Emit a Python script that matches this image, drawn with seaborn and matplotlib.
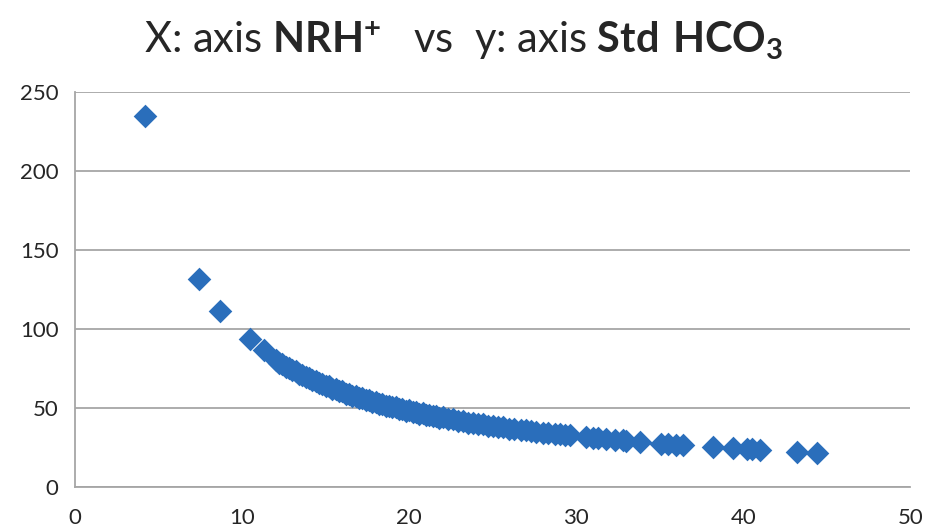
import matplotlib
matplotlib.use("Agg")
import matplotlib.pyplot as plt
import pandas as pd
import seaborn as sns

# values (NRH+ on x, Std HCO3 on y)
nrh = [4.2, 7.4, 8.7, 10.5, 11.3,
       12.0, 12.2, 12.4, 12.6, 12.8, 13.0, 13.2, 13.4, 13.6, 13.8,
       14.0, 14.2, 14.4, 14.6, 14.8, 15.0, 15.2, 15.4, 15.6, 15.8,
       16.0, 16.2, 16.4, 16.6, 16.8, 17.0, 17.2, 17.4, 17.6, 17.8,
       18.0, 18.2, 18.4, 18.6, 18.8, 19.0, 19.2, 19.4, 19.6, 19.8,
       20.0, 20.2, 20.4, 20.6, 20.8, 21.0, 21.2, 21.4, 21.6, 21.8,
       22.0, 22.3, 22.6, 22.9, 23.2, 23.5, 23.8, 24.1, 24.4, 24.7,
       25.0, 25.3, 25.6, 26.0, 26.3, 26.7, 27.0, 27.3, 27.6, 28.0,
       28.3, 28.7, 29.0, 29.3, 29.6, 30.6, 31.0, 31.3, 31.8, 32.3,
       32.8, 33.0, 33.8, 35.1, 35.5, 36.0, 36.4, 38.2, 39.4, 40.2,
       40.5, 41.0, 43.2, 44.4]
std_hco3 = [234.5, 131.8, 111.5, 93.5, 86.8,
            80.5, 78.6, 77.9, 76.1, 75.4, 73.8, 73.2, 71.6, 71.0, 69.5,
            69.0, 67.5, 67.1, 65.7, 65.3, 64.0, 63.6, 62.2, 61.9, 60.6,
            60.4, 59.1, 58.9, 57.7, 57.5, 56.3, 56.2, 55.0, 54.9, 53.8,
            53.7, 52.6, 52.5, 51.5, 51.4, 50.4, 50.4, 49.3, 49.3, 48.3,
            48.4, 47.4, 47.4, 46.4, 46.5, 45.6, 45.6, 44.7, 44.8, 43.9,
            44.0, 42.9, 42.8, 41.8, 41.7, 40.7, 40.7, 39.8, 39.7, 38.8,
            38.7, 37.9, 37.8, 36.8, 36.8, 35.9, 35.9, 35.1, 35.0, 34.2,
            34.2, 33.4, 33.4, 32.7, 32.6, 31.5, 31.1, 30.8, 30.3, 29.8,
            29.4, 29.2, 28.5, 27.4, 27.1, 26.8, 26.5, 25.2, 24.4, 24.0,
            23.8, 23.5, 22.3, 21.7]

x_ticks = [0, 10, 20, 30, 40, 50]
y_ticks = [0, 50, 100, 150, 200, 250]

sns.set_style("white")
plt.rcParams["font.family"] = ["Lato", "DejaVu Sans"]
plt.rcParams["mathtext.fontset"] = "custom"
plt.rcParams["mathtext.rm"] = "Lato"
plt.rcParams["mathtext.bf"] = "Lato:bold"

df = pd.DataFrame({"NRH": nrh, "HCO3": std_hco3})

fig = plt.figure(figsize=(9.27, 5.31), dpi=100)
ax = fig.add_axes([0.081, 0.083, 0.901, 0.744])

sns.scatterplot(data=df, x="NRH", y="HCO3", marker="D", s=145,
                color="#2A6EBB", linewidth=0, ax=ax, zorder=3)

ax.set_xlim(0, 50)
ax.set_ylim(0, 250)
ax.set_xticks(x_ticks)
ax.set_yticks(y_ticks)
ax.set_xlabel("")
ax.set_ylabel("")
ax.yaxis.grid(True, color="#A6A6A6", linewidth=1.3)
ax.set_axisbelow(True)
for side in ["top", "right"]:
    ax.spines[side].set_visible(False)
for side in ["left", "bottom"]:
    ax.spines[side].set_color("#A6A6A6")
    ax.spines[side].set_linewidth(1.3)
ax.tick_params(axis="x", direction="out", length=6, color="#A6A6A6",
               labelsize=16, pad=9)
ax.tick_params(axis="y", direction="out", length=6, color="#A6A6A6",
               labelsize=16, pad=6)

fig.text(0.5, 0.925, r"X: axis $\mathbf{NRH^{+}}$   vs  y: axis $\mathbf{Std\ HCO_3}$",
         ha="center", va="center", fontsize=30)

fig.savefig("out.png", dpi=100)
